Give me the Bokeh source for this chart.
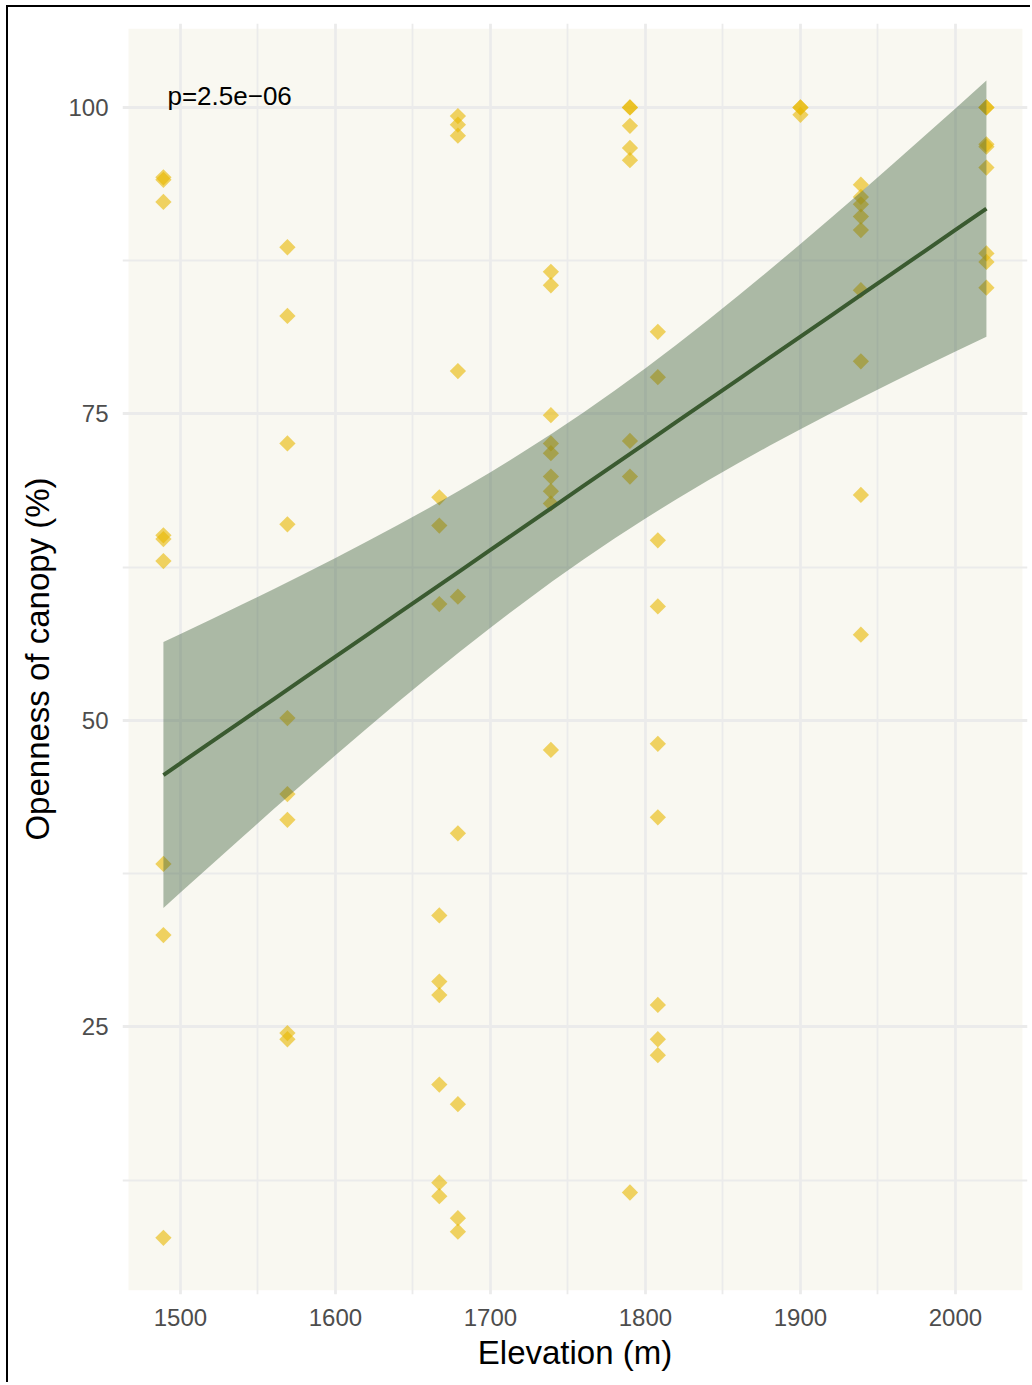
import numpy as np
from bokeh.plotting import figure
from bokeh.models import Range1d, FixedTicker, BoxAnnotation, Label
from bokeh.embed import file_html
from bokeh.resources import INLINE

# Canopy openness measured at each sampling elevation
elevation = (
    [1489] * 9 + [1569] * 9 + [1667] * 9 + [1679] * 9 + [1739] * 9
    + [1790] * 8 + [1808] * 9 + [1900] * 3 + [1939] * 9 + [2020] * 8
)
openness = [
    94.3, 94.1, 92.3, 65.1, 64.8, 63.0, 38.3, 32.5, 7.8,
    88.6, 83.0, 72.6, 66.0, 50.2, 44.0, 41.9, 24.5, 24.0,
    68.2, 65.9, 59.5, 34.1, 28.7, 27.6, 20.3, 12.3, 11.2,
    99.3, 98.6, 97.7, 78.5, 60.1, 40.8, 18.7, 9.4, 8.3,
    86.6, 85.5, 74.9, 72.6, 71.8, 69.9, 68.7, 67.7, 47.6,
    100.0, 100.0, 98.5, 96.7, 95.7, 72.8, 69.9, 11.5,
    81.7, 78.0, 64.7, 59.3, 48.1, 42.1, 26.8, 24.0, 22.7,
    100.0, 100.0, 99.4,
    93.7, 92.7, 92.1, 91.1, 90.0, 85.1, 79.3, 68.4, 57.0,
    100.0, 100.0, 97.0, 96.8, 95.1, 88.1, 87.4, 85.3,
]

# Linear fit with its 95% confidence band
fit_x = [1489, 1500, 1520, 1540, 1560, 1580, 1600, 1620, 1640, 1660, 1680, 1700, 1720, 1740,
         1760, 1780, 1800, 1820, 1840, 1860, 1880, 1900, 1920, 1940, 1960, 1980, 2000, 2020]
fit_y = [45.55, 46.51, 48.25, 49.99, 51.73, 53.47, 55.21, 56.95, 58.69, 60.43, 62.17, 63.91, 65.65, 67.39,
         69.13, 70.87, 72.61, 74.35, 76.09, 77.83, 79.57, 81.31, 83.05, 84.79, 86.53, 88.27, 90.01, 91.75]
band_lo = [34.70, 35.96, 38.24, 40.50, 42.75, 44.97, 47.16, 49.33, 51.46, 53.55, 55.59, 57.57, 59.49, 61.35,
           63.13, 64.84, 66.48, 68.05, 69.55, 71.00, 72.40, 73.76, 75.08, 76.37, 77.63, 78.87, 80.10, 81.30]
band_hi = [56.40, 57.06, 58.26, 59.48, 60.71, 61.97, 63.26, 64.57, 65.92, 67.31, 68.75, 70.25, 71.81, 73.43,
           75.13, 76.90, 78.74, 80.65, 82.63, 84.66, 86.74, 88.86, 91.02, 93.21, 95.43, 97.67, 99.92, 102.20]

p_label = "p=2.5e\u221206"

x_major = [1500, 1600, 1700, 1800, 1900, 2000]
x_minor = [1450, 1550, 1650, 1750, 1850, 1950, 2050]
y_major = [25, 50, 75, 100]
y_minor = [12.5, 37.5, 62.5, 87.5]

FONT = "Liberation Sans"
GRID = "#EBEBEB"

x0, x1 = 1462.6, 2046.5
y0, y1 = 3.18, 106.85

p = figure(
    width=1024, height=1377,
    x_range=Range1d(x0, x1), y_range=Range1d(y0, y1),
    output_backend="svg", toolbar_location=None,
    min_border_left=114, min_border_top=16, min_border_right=5, min_border_bottom=90,
    background_fill_color="white", border_fill_color="white",
    outline_line_color=None,
)
p.margin = (5, 0, 0, 6)
p.styles = {"border-top": "2px solid #000000", "border-left": "2px solid #000000"}

# cream panel, inset slightly from the grid extent
dx = (x1 - x0) * 0.0066
dy = (y1 - y0) * 0.0033
panel = BoxAnnotation(left=x0 + dx * 1.0, right=x1 - dx * 0.85, bottom=y0 + dy, top=y1 - dy * 1.25,
                      fill_color="#F9F8F1", fill_alpha=1.0, line_color=None, level="image")
p.add_layout(panel)

p.xaxis.ticker = FixedTicker(ticks=x_major, minor_ticks=x_minor)
p.yaxis.ticker = FixedTicker(ticks=y_major, minor_ticks=y_minor)

for g in (p.xgrid, p.ygrid):
    g.grid_line_color = GRID
    g.grid_line_width = 2.8
    g.minor_grid_line_color = GRID
    g.minor_grid_line_width = 1.8

for ax in (p.xaxis, p.yaxis):
    ax.axis_line_color = None
    ax.major_tick_line_color = None
    ax.minor_tick_line_color = None
    ax.major_tick_out = 0
    ax.major_tick_in = 0
    ax.minor_tick_out = 0
    ax.minor_tick_in = 0
    ax.major_label_text_font = FONT
    ax.major_label_text_font_size = "24px"
    ax.major_label_text_color = "#4D4D4D"
    ax.axis_label_text_font = FONT
    ax.axis_label_text_font_size = "33px"
    ax.axis_label_text_font_style = "normal"
    ax.axis_label_text_color = "#000000"

p.xaxis.axis_label = "Elevation (m)"
p.yaxis.axis_label = "Openness of canopy (%)"
p.xaxis.major_label_standoff = 14
p.yaxis.major_label_standoff = 14
p.xaxis.axis_label_standoff = 5
p.yaxis.axis_label_standoff = 9

p.scatter(elevation, openness, marker="square", angle=np.pi / 4, size=11.5,
          fill_color="#E7B800", fill_alpha=0.6, line_color=None)

p.varea(x=fit_x, y1=band_lo, y2=band_hi, fill_color="#385A35", fill_alpha=0.4)
p.line(fit_x, fit_y, line_color="#3A5A30", line_width=4)

p.add_layout(Label(x=min(elevation) + 2.6, y=100.95, text=p_label, text_font=FONT,
                   text_font_size="26px", text_color="#000000",
                   text_align="left", text_baseline="alphabetic"))

open("out.html", "w").write(file_html(p, INLINE))
